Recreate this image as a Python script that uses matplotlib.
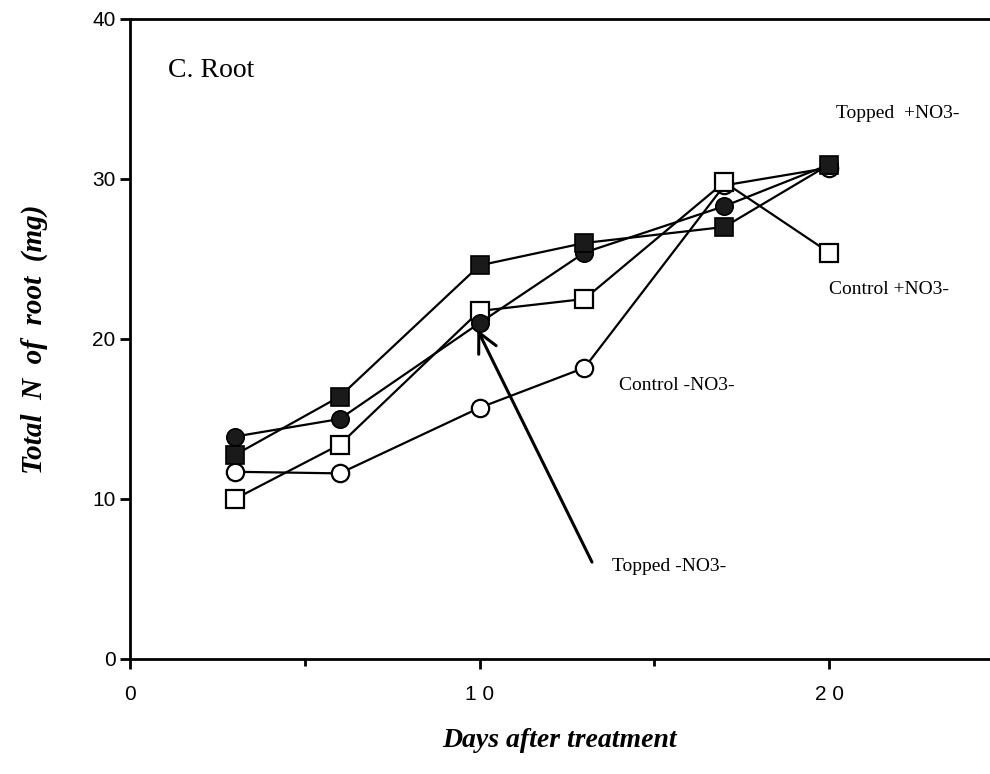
import numpy as np
import matplotlib.pyplot as plt

# Sampling days
days = [3, 6, 10, 13, 17, 20]

# Total N of root (mg) per treatment
topped_plus = [12.75, 16.4, 24.6, 26.0, 27.0, 30.9]    # filled squares
topped_minus = [13.9, 15.0, 21.0, 25.4, 28.3, 30.9]    # filled circles
control_plus = [10.0, 13.4, 21.75, 22.5, 29.8, 25.4]   # open squares
control_minus = [11.7, 11.6, 15.7, 18.2, 29.6, 30.7]   # open circles

serif = 'Liberation Serif'
sans = 'Liberation Sans'

fig = plt.figure(figsize=(9.9, 7.74), dpi=100)
ax = fig.add_axes([0.1313, 0.1486, 0.8687, 0.8269])

ms = 12.5
lw = 1.6
ax.plot(days, control_minus, '-o', color='black', mfc='white', mec='black', ms=ms, mew=1.6, lw=lw, zorder=3)
ax.plot(days, control_plus, '-s', color='black', mfc='white', mec='black', ms=ms, mew=1.6, lw=lw, zorder=3)
ax.plot(days, topped_minus, '-o', color='black', mfc='#1a1a1a', mec='black', ms=ms, mew=1.2, lw=lw, zorder=4)
ax.plot(days, topped_plus, '-s', color='black', mfc='#1a1a1a', mec='black', ms=ms, mew=1.2, lw=lw, zorder=4)

ax.set_xlim(0, 24.6)
ax.set_ylim(0, 40)
ax.set_xticks([0, 10, 20])
ax.set_xticks([5, 15], minor=True)
ax.set_xticklabels(['0', '1 0', '2 0'])
ax.set_yticks([0, 10, 20, 30, 40])

for s in ['left', 'bottom', 'top']:
    ax.spines[s].set_linewidth(2)
ax.spines['right'].set_visible(False)
ax.tick_params(axis='both', which='major', length=7, width=2, labelsize=15, direction='out')
ax.tick_params(axis='x', which='minor', length=5, width=2, direction='out')
ax.tick_params(axis='x', pad=12)
for lab in ax.get_xticklabels() + ax.get_yticklabels():
    lab.set_family(sans)

ax.text(1.1, 36.4, 'C. Root', fontsize=20, family=serif)
ax.text(20.2, 33.8, 'Topped  +NO3-', fontsize=14, family=serif)
ax.text(20.0, 22.8, 'Control +NO3-', fontsize=14, family=serif)
ax.text(14.0, 16.8, 'Control -NO3-', fontsize=14, family=serif)
ax.text(13.8, 5.5, 'Topped -NO3-', fontsize=14, family=serif)

ax.annotate('', xy=(9.9, 20.75), xytext=(13.25, 5.9),
            arrowprops=dict(arrowstyle='->', color='black', lw=2.2,
                            mutation_scale=35))

ax.set_ylabel('Total  N  of  root  (mg)', fontsize=21, family=serif,
              style='italic', weight='bold', labelpad=32)
ax.set_xlabel('Days after treatment', fontsize=20, family=serif,
              style='italic', weight='bold', labelpad=17)

fig.savefig('out.png', dpi=100)
